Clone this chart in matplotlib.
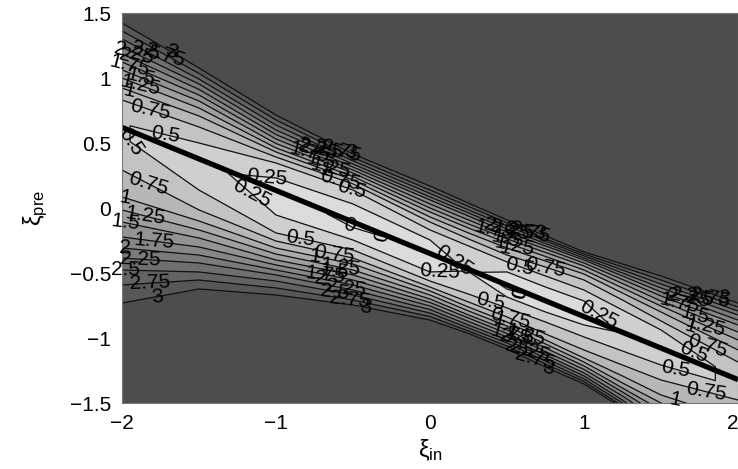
import numpy as np
import matplotlib
matplotlib.use("Agg")
import matplotlib.pyplot as plt
from matplotlib.colors import LinearSegmentedColormap, Normalize

plt.rcParams['font.family'] = ['Liberation Sans', 'DejaVu Sans']
plt.rcParams['mathtext.fontset'] = 'custom'
plt.rcParams['mathtext.rm'] = 'Liberation Sans'
plt.rcParams['mathtext.it'] = 'Liberation Sans:italic'
plt.rcParams['mathtext.fallback'] = 'stixsans'

# xi_in sample columns
xi_in = [-2, -1.5, -1, -.5, 0, .25, .5, .75, 1, 1.25, 1.5, 2]

# xi_pre position of each contour above the thick line, per column
up_300 = [1.423, 1.077, .715, .415, .169, .038, -.092, -.215, -.338, -.431, -.523, -.731]
up_275 = [1.362, 1.035, .677, .388, .138, .012, -.115, -.238, -.354, -.454, -.554, -.762]
up_250 = [1.3, .992, .638, .362, .112, -.015, -.138, -.254, -.369, -.477, -.585, -.792]
up_225 = [1.238, .954, .6, .338, .085, -.038, -.162, -.273, -.385, -.5, -.615, -.823]
up_200 = [1.185, .912, .565, .315, .062, -.062, -.185, -.292, -.4, -.523, -.646, -.862]
up_175 = [1.123, .869, .531, .292, .031, -.092, -.212, -.315, -.423, -.55, -.677, -.9]
up_150 = [1.062, .823, .496, .269, 0, -.123, -.238, -.342, -.446, -.581, -.715, -.954]
up_125 = [1.0, .769, .462, .242, -.031, -.154, -.269, -.373, -.477, -.615, -.754, -1.015]
up_100 = [.923, .708, .431, .215, -.069, -.192, -.308, -.408, -.508, -.654, -.8, -1.092]
up_075 = [.831, .623, .392, .185, -.108, -.238, -.362, -.454, -.554, -.708, -.869, -1.185]
up_050 = [.692, .5, .346, .138, -.169, -.292, -.415, -.523, -.631, -.785, -.938, -1.277]
up_025 = [.654, .446, .231, .031, -.246, -.369, -.492, -.608, -.715, -.923, -1.031, -1.3]

# valley of the surface: position and value per column
valley_pre = [.6, .358, .115, -.127, -.369, -.492, -.612, -.731, -.854, -.969, -1.096, -1.338]
valley_val = [.52, .33, .12, -.06, .1, .26, -.05, .1, .12, .27, .38, .55]

# xi_pre position of each contour below the thick line, per column
lo_025 = [.538, .277, -.054, -.246, -.492, -.562, -.685, -.8, -.9, -1.031, -1.154, -1.4]
lo_050 = [.446, .138, -.192, -.323, -.562, -.662, -.769, -.877, -.992, -1.1, -1.208, -1.438]
lo_075 = [.292, -.015, -.254, -.385, -.608, -.723, -.838, -.969, -1.092, -1.208, -1.323, -1.477]
lo_100 = [.085, -.1, -.308, -.431, -.638, -.762, -.877, -1.015, -1.154, -1.292, -1.438, -1.631]
lo_125 = [-.015, -.169, -.354, -.477, -.669, -.792, -.908, -1.046, -1.185, -1.346, -1.5, -1.723]
lo_150 = [-.108, -.231, -.4, -.515, -.7, -.823, -.938, -1.077, -1.215, -1.385, -1.554, -1.785]
lo_175 = [-.223, -.3, -.438, -.554, -.727, -.846, -.965, -1.104, -1.242, -1.415, -1.6, -1.846]
lo_200 = [-.308, -.362, -.477, -.592, -.754, -.873, -.992, -1.131, -1.269, -1.446, -1.646, -1.908]
lo_225 = [-.385, -.423, -.515, -.631, -.781, -.9, -1.015, -1.154, -1.292, -1.477, -1.692, -1.962]
lo_250 = [-.477, -.492, -.562, -.669, -.808, -.923, -1.038, -1.177, -1.315, -1.5, -1.738, -2.015]
lo_275 = [-.592, -.554, -.615, -.708, -.835, -.946, -1.062, -1.2, -1.335, -1.523, -1.785, -2.069]
lo_300 = [-.731, -.623, -.669, -.746, -.862, -.965, -1.085, -1.223, -1.354, -1.538, -1.823, -2.123]

levels = [.25, .5, .75, 1, 1.25, 1.5, 1.75, 2, 2.25, 2.5, 2.75, 3]
upper_rows = [up_025, up_050, up_075, up_100, up_125, up_150, up_175, up_200, up_225, up_250, up_275, up_300]
lower_rows = [lo_025, lo_050, lo_075, lo_100, lo_125, lo_150, lo_175, lo_200, lo_225, lo_250, lo_275, lo_300]

# thick line end points
line_in = [-2, 2]
line_pre = [.62, -1.32]

# xi_in position of the contour labels, one list per cluster, ordered as levels
lab_up_a = [-1.06, -1.72, -1.82, -1.95, -1.88, -1.88, -1.95, -1.98, -1.92, -1.85, -1.72, -1.68]
lab_up_b = [.175, -.51, -.58, -.68, -.65, -.71, -.78, -.81, -.73, -.66, -.58, -.52]
lab_up_c = [1.1, .58, .75, .49, .55, .49, .42, .39, .52, .58, .65, .71]
lab_up_d = [None, 1.72, 1.8, 1.69, 1.79, 1.72, 1.62, 1.57, 1.69, 1.75, 1.82, 1.9]
lab_lo_a = [-1.17, -1.96, -1.83, -1.98, -1.85, -1.98, -1.79, -1.98, -1.88, -1.98, -1.82, -1.77]
lab_lo_b = [.065, -.84, -.62, -.75, -.58, -.62, -.68, -.71, -.55, -.62, -.52, -.42]
lab_lo_c = [None, .39, .52, .45, .62, .58, .52, .49, .65, .58, .68, .77]
lab_lo_d = [None, 1.59, 1.79, 1.59, None, None, None, None, None, None, None, None]
lab_zero = [-.52, -.28, .65, .81]

tick_x = [-2, -1, 0, 1, 2]
tick_y = [-1.5, -1, -.5, 0, .5, 1, 1.5]
tick_y_labels = ['\u22121.5', '\u22121', '\u22120.5', '0', '0.5', '1', '1.5']
tick_x_labels = ['\u22122', '\u22121', '0', '1', '2']

# Assemble the surface on a grid whose rows follow the contours
xi = np.array(xi_in, float)
valley_v = np.array(valley_val)
rows_y = [np.full_like(xi, -3.0)] + [np.array(r) for r in lower_rows[::-1]] + [np.array(valley_pre)] \
    + [np.array(r) for r in upper_rows] + [np.full_like(xi, 2.0)]
rows_z = [np.full_like(xi, 4.0)] + [np.maximum(l, valley_v) for l in levels[::-1]] + [valley_v] \
    + [np.maximum(l, valley_v) for l in levels] + [np.full_like(xi, 4.0)]
Y = np.array(rows_y)
Z = np.array(rows_z)
X = np.tile(xi, (Y.shape[0], 1))

fig = plt.figure(figsize=(7.38, 4.69), dpi=100)
ax = fig.add_axes([122 / 738, (469 - 403) / 469, 616 / 738, 390 / 469])

cmap = LinearSegmentedColormap.from_list('g', ['#e6e6e6', '#4d4d4d'])
fill_levels = [-.25, 0] + levels + [5]
ax.contourf(X, Y, Z, levels=fill_levels, cmap=cmap, norm=Normalize(-.12, 3.1))

LABEL_SIZE = 15


def add_labels(cs, pts):
    texts = ax.clabel(cs, manual=pts, inline=False, fontsize=LABEL_SIZE, fmt='%g', colors='k')
    for t in texts:
        t.set_clip_on(False)


cs0 = ax.contour(X, Y, Z, levels=[0], colors='#111111', linewidths=0.9)
add_labels(cs0, [(x, np.interp(x, xi, valley_pre)) for x in lab_zero])

for i, lev in enumerate(levels):
    cs = ax.contour(X, Y, Z, levels=[lev], colors='#111111', linewidths=0.9)
    pts = []
    for cluster, row in [(lab_up_a, upper_rows[i]), (lab_up_b, upper_rows[i]),
                         (lab_up_c, upper_rows[i]), (lab_up_d, upper_rows[i]),
                         (lab_lo_a, lower_rows[i]), (lab_lo_b, lower_rows[i]),
                         (lab_lo_c, lower_rows[i]), (lab_lo_d, lower_rows[i])]:
        if cluster[i] is not None:
            pts.append((cluster[i], np.interp(cluster[i], xi, row)))
    add_labels(cs, pts)

ax.plot(line_in, line_pre, color='k', lw=3.8, solid_capstyle='butt')

ax.set_xlim(-2, 2)
ax.set_ylim(-1.5, 1.5)
ax.set_xticks(tick_x, tick_x_labels)
ax.set_yticks(tick_y, tick_y_labels)
ax.tick_params(length=0, labelsize=15, pad=8)
ax.get_xticklabels()[-1].set_ha('right')
for s in ax.spines.values():
    s.set_color('#777777')
    s.set_linewidth(0.8)
ax.set_xlabel(r'$\mathrm{\xi_{in}}$', fontsize=17, labelpad=3)
ax.set_ylabel(r'$\mathrm{\xi_{pre}}$', fontsize=17, labelpad=14)

fig.savefig('out.png', dpi=100)
